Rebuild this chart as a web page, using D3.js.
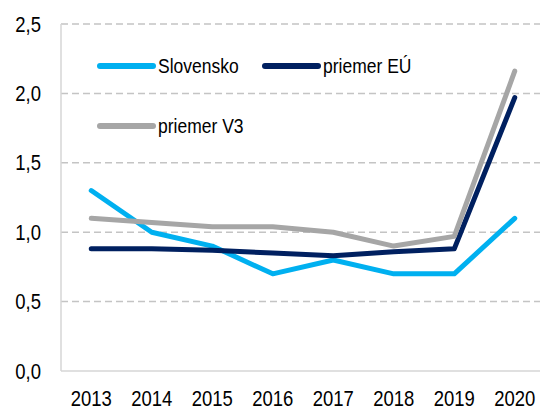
<!DOCTYPE html>
<html>
<head>
<meta charset="utf-8">
<script src="https://cdn.jsdelivr.net/npm/d3@7"></script>
<style>
  html, body { margin: 0; padding: 0; background: #fff; }
  svg { display: block; font-family: "Liberation Sans", Arial, sans-serif; }
</style>
</head>
<body>
<div id="chart"></div>
<script>
// ── Data ─────────────────────────────────────────
const years = ["2013", "2014", "2015", "2016", "2017", "2018", "2019", "2020"];
const slovensko = [1.30, 1.00, 0.90, 0.70, 0.80, 0.70, 0.70, 1.10];
const priemerEU = [0.88, 0.88, 0.87, 0.85, 0.83, 0.86, 0.88, 1.97];
const priemerV3 = [1.10, 1.07, 1.04, 1.04, 1.00, 0.90, 0.97, 2.16];
const yTicks = [0, 0.5, 1.0, 1.5, 2.0, 2.5];

const series = [
  { name: "Slovensko",   values: slovensko, color: "#00b0f0" },
  { name: "priemer EÚ",  values: priemerEU, color: "#002060" },
  { name: "priemer V3",  values: priemerV3, color: "#a6a6a6" }
];

// ── Layout ───────────────────────────────────────
const W = 540, H = 410;
const plot = { left: 61, right: 545, top: 24, bottom: 371 };
const stretch = 1.15; // text in the original looks slightly tall/narrow

const svg = d3.select("#chart").append("svg")
  .attr("width", W).attr("height", H);

const x = d3.scaleBand().domain(years).range([plot.left, plot.right]).padding(0);
const y = d3.scaleLinear().domain([0, 2.5]).range([plot.bottom, plot.top]);
const fmt = d => d3.format(".1f")(d).replace(".", ",");
const place = (px, py) => `translate(${px},${py}) scale(1,${stretch})`;

// grid
svg.append("g")
  .selectAll("line")
  .data(yTicks.filter(d => d > 0))
  .enter().append("line")
  .attr("x1", plot.left).attr("x2", plot.right)
  .attr("y1", d => y(d)).attr("y2", d => y(d))
  .attr("stroke", "#c4c4c4")
  .attr("stroke-width", 1.5)
  .attr("stroke-dasharray", "7,4");

// axes lines
svg.append("line")
  .attr("x1", plot.left).attr("x2", plot.left)
  .attr("y1", plot.top).attr("y2", plot.bottom)
  .attr("stroke", "#d6d6d6").attr("stroke-width", 1.5);
svg.append("line")
  .attr("x1", plot.left).attr("x2", plot.right)
  .attr("y1", plot.bottom).attr("y2", plot.bottom)
  .attr("stroke", "#d6d6d6").attr("stroke-width", 1.5);

// y labels
svg.append("g")
  .selectAll("text")
  .data(yTicks)
  .enter().append("text")
  .attr("transform", d => place(41, y(d)))
  .attr("dy", "0.36em")
  .attr("text-anchor", "end")
  .attr("font-size", 18.5)
  .attr("fill", "#000")
  .text(fmt);

// x labels
svg.append("g")
  .selectAll("text")
  .data(years)
  .enter().append("text")
  .attr("transform", d => place(x(d) + x.bandwidth() / 2, 406))
  .attr("text-anchor", "middle")
  .attr("font-size", 18.5)
  .attr("fill", "#000")
  .text(d => d);

// lines
const line = d3.line()
  .x((d, i) => x(years[i]) + x.bandwidth() / 2)
  .y(d => y(d));

series.forEach(s => {
  svg.append("path")
    .datum(s.values)
    .attr("fill", "none")
    .attr("stroke", s.color)
    .attr("stroke-width", 5)
    .attr("stroke-linecap", "round")
    .attr("stroke-linejoin", "round")
    .attr("d", line);
});

// legend
const legendPos = [
  { x: 98,  y: 66 },
  { x: 263, y: 66 },
  { x: 98,  y: 126 }
];

series.forEach((s, i) => {
  const p = legendPos[i];
  svg.append("line")
    .attr("x1", p.x + 2).attr("x2", p.x + 55)
    .attr("y1", p.y).attr("y2", p.y)
    .attr("stroke", s.color)
    .attr("stroke-width", 6)
    .attr("stroke-linecap", "round");
  svg.append("text")
    .attr("transform", place(p.x + 60, p.y))
    .attr("dy", "0.36em")
    .attr("font-size", 17.5)
    .attr("fill", "#000")
    .text(s.name);
});
</script>
</body>
</html>
